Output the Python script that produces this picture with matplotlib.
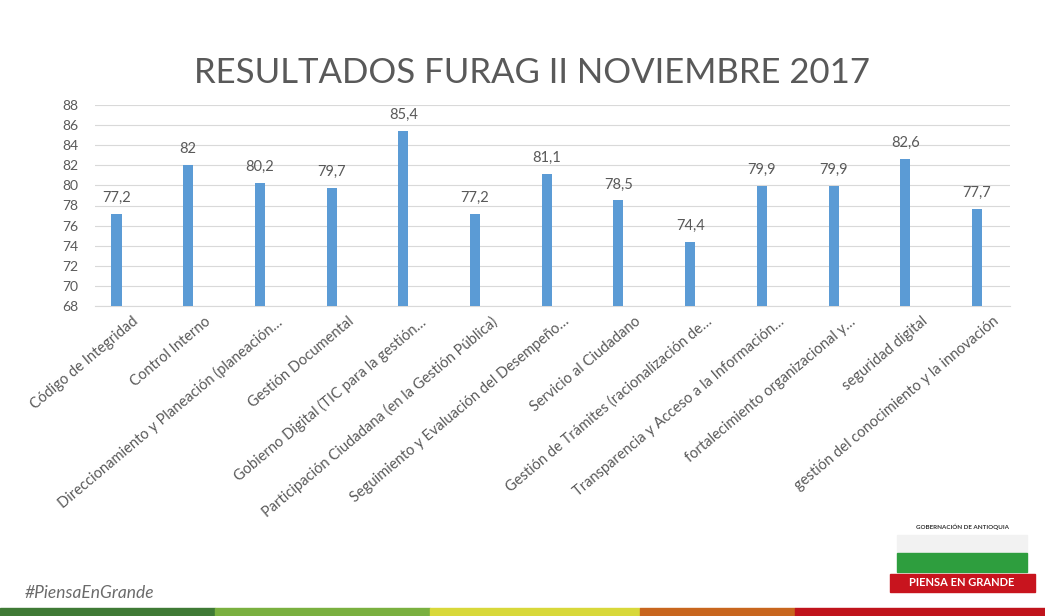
import matplotlib

matplotlib.use("Agg")
import matplotlib.pyplot as plt
from matplotlib.patches import Rectangle

plt.rcParams["font.family"] = ["Lato", "DejaVu Sans"]

TITLE = "RESULTADOS FURAG II NOVIEMBRE 2017"

CATEGORIES = [
    "Código de Integridad",
    "Control Interno",
    "Direccionamiento y Planeación (planeación…",
    "Gestión Documental",
    "Gobierno Digital (TIC para la gestión…",
    "Participación Ciudadana (en la Gestión Pública)",
    "Seguimiento y Evaluación del Desempeño…",
    "Servicio al Ciudadano",
    "Gestión de Trámites (racionalización de…",
    "Transparencia y Acceso a la Información…",
    "fortalecimiento organizacional y…",
    "seguridad digital",
    "gestión del conocimiento y la innovación",
]
VALUES = [77.2, 82, 80.2, 79.7, 85.4, 77.2, 81.1, 78.5, 74.4, 79.9, 79.9, 82.6, 77.7]
Y_TICKS = list(range(68, 89, 2))

BAR_COLOR = "#5b9bd5"
TEXT_GRAY = "#595959"
BAND_COLORS = ["#3f7a35", "#7ab03f", "#d8d83a", "#c8661e", "#c0141c"]
BAND_EDGES = [0, 215, 430, 640, 795, 1045]

W, H = 1045, 616
fig = plt.figure(figsize=(W / 100, H / 100), dpi=100)
fig.patch.set_facecolor("white")

# axes box in pixels: left 95, right 1010, top (88) 105, bottom (68) 306
ax = fig.add_axes([95 / W, 1 - 306 / H, (1010 - 95) / W, (306 - 105) / H])
ax.set_facecolor("none")
x = list(range(len(VALUES)))
ax.bar(x, [v - 68 for v in VALUES], bottom=68, width=0.14, color=BAR_COLOR, zorder=3)

for xi, v in zip(x, VALUES):
    label = f"{v:g}".replace(".", ",")
    ax.text(xi, v + 0.9, label, ha="center", va="bottom", fontsize=10.5, color=TEXT_GRAY)

ax.set_ylim(68, 88)
ax.set_xlim(-0.3, len(VALUES) - 1 + 0.46)
ax.set_yticks(Y_TICKS)
# rotated labels end a little to the right of each bar, as in the original
ax.set_xticks([xi + 0.22 for xi in x])
ax.set_xticklabels(CATEGORIES, rotation=40, ha="right", rotation_mode="anchor",
                   fontsize=10.5, color=TEXT_GRAY)
ax.tick_params(axis="x", length=0, pad=6)
ax.tick_params(axis="y", length=0, labelsize=10, labelcolor=TEXT_GRAY, pad=12)
ax.grid(axis="y", color="#d9d9d9", linewidth=0.8, zorder=0)
for s in ["top", "right", "left"]:
    ax.spines[s].set_visible(False)
ax.spines["bottom"].set_color("#d9d9d9")

fig.text(532 / W, 1 - 73 / H, TITLE, ha="center", va="center", fontsize=25, color=TEXT_GRAY)

# footer hashtag
fig.text(25 / W, 1 - 593 / H, "#PiensaEnGrande", ha="left", va="center", fontsize=12.5,
         style="italic", color="#6b6b6b")

# colour band at the bottom
for i, c in enumerate(BAND_COLORS):
    fig.patches.append(Rectangle((BAND_EDGES[i] / W, 0), (BAND_EDGES[i + 1] - BAND_EDGES[i]) / W,
                                 8 / H, transform=fig.transFigure, color=c))

# logo block
fig.text(962 / W, 1 - 527 / H, "GOBERNACIÓN DE ANTIOQUIA", ha="center", va="center",
         fontsize=4.5, weight="bold", color="#333333")
fig.patches.append(Rectangle((897 / W, 1 - 553 / H), 130 / W, 18 / H,
                             transform=fig.transFigure, color="#f2f2f2"))
fig.patches.append(Rectangle((897 / W, 1 - 572 / H), 130 / W, 19 / H,
                             transform=fig.transFigure, color="#2e9e3e"))
fig.patches.append(Rectangle((890 / W, 1 - 592 / H), 145 / W, 18 / H,
                             transform=fig.transFigure, color="#c8141e"))
fig.text(962 / W, 1 - 583 / H, "PIENSA EN GRANDE", ha="center", va="center",
         fontsize=8, weight="bold", color="white")

fig.savefig("out.png", dpi=100)
plt.close(fig)
